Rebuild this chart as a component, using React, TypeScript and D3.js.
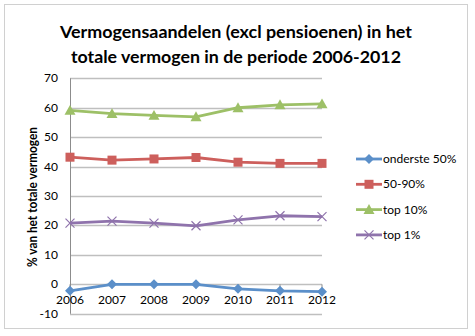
import React from "react";
import * as d3 from "d3";

const years = ["2006", "2007", "2008", "2009", "2010", "2011", "2012"];
const onderste50 = [-2.2, 0, 0, 0, -1.5, -2.2, -2.5];
const mid5090 = [43.2, 42.2, 42.6, 43.1, 41.5, 41.1, 41.1];
const top10 = [59.1, 58.0, 57.4, 56.9, 60.0, 61.0, 61.3];
const top1 = [20.8, 21.5, 20.8, 19.9, 21.9, 23.3, 23.0];
const yTicks = [-10, 0, 10, 20, 30, 40, 50, 60, 70];
const seriesNames = ["onderste 50%", "50-90%", "top 10%", "top 1%"];

const colors = ["#5b8fc9", "#cd5f5c", "#9dc067", "#8f73ac"];
const markers = ["diamond", "square", "triangle", "x"];

const W = 475, H = 336;
const FONT = "Lato, 'Open Sans', sans-serif";

function Marker({ type, x, y, color }: { type: string; x: number; y: number; color: string }) {
  if (type === "diamond") {
    const s = 5;
    return <path d={`M${x},${y - s}L${x + s},${y}L${x},${y + s}L${x - s},${y}Z`} fill={color} />;
  }
  if (type === "square") {
    const s = 4.5;
    return <rect x={x - s} y={y - s} width={2 * s} height={2 * s} fill={color} />;
  }
  if (type === "triangle") {
    const s = 5.5;
    return <path d={`M${x},${y - s}L${x + s},${y + s * 0.8}L${x - s},${y + s * 0.8}Z`} fill={color} />;
  }
  const s = 4.5;
  return (
    <path d={`M${x - s},${y - s}L${x + s},${y + s}M${x - s},${y + s}L${x + s},${y - s}`} stroke={color} strokeWidth={1.2} fill="none" />
  );
}

export default function App() {
  const x = d3.scalePoint<string>().domain(years).range([70, 322]);
  const y = d3.scaleLinear().domain([-10, 70]).range([313.8, 78.3]);
  const data = [onderste50, mid5090, top10, top1];
  const line = d3
    .line<number>()
    .x((_, i) => x(years[i]) as number)
    .y((d) => y(d));

  return (
    <svg width={W} height={H} style={{ position: "absolute", left: 0, top: 0, background: "#fff" }} fontFamily={FONT}>
      <rect x={4.5} y={4.5} width={463} height={324} fill="#fff" stroke="#d0d0d0" strokeWidth={1} />
      <text x={236} y={38} textAnchor="middle" fontSize={17} fontWeight="bold" textLength={352} lengthAdjust="spacingAndGlyphs">
        Vermogensaandelen (excl pensioenen) in het
      </text>
      <text x={236} y={63} textAnchor="middle" fontSize={17} fontWeight="bold" textLength={330} lengthAdjust="spacingAndGlyphs">
        totale vermogen in de periode 2006-2012
      </text>
      {yTicks.map((t) => (
        <g key={t}>
          <line x1={70} x2={322} y1={Math.round(y(t)) + 0.5} y2={Math.round(y(t)) + 0.5} stroke="#bfbfbf" strokeWidth={1.3} />
          <text x={58} y={y(t) + 4} textAnchor="end" fontSize={12}>
            {t}
          </text>
        </g>
      ))}
      <line x1={70.5} x2={70.5} y1={y(70)} y2={y(-10)} stroke="#8c8c8c" strokeWidth={1} />
      {years.map((yr) => (
        <g key={yr}>
          <line x1={x(yr)} x2={x(yr)} y1={y(0)} y2={y(0) + 4} stroke="#8c8c8c" />
          <text x={x(yr)} y={y(0) + 20} textAnchor="middle" fontSize={12}>
            {yr}
          </text>
        </g>
      ))}
      <text transform={`translate(37,197) rotate(-90)`} textAnchor="middle" fontSize={12.5} fontWeight="bold" textLength={140} lengthAdjust="spacingAndGlyphs">
        % van het totale vermogen
      </text>
      {data.map((vals, si) => (
        <g key={si}>
          <path d={line(vals) || ""} fill="none" stroke={colors[si]} strokeWidth={2.8} strokeLinejoin="round" />
          {vals.map((v, i) => (
            <Marker key={i} type={markers[si]} x={x(years[i]) as number} y={y(v)} color={colors[si]} />
          ))}
        </g>
      ))}
      {seriesNames.map((n, i) => {
        const ly = 159 + i * 25.3;
        return (
          <g key={n}>
            <line x1={356} x2={382} y1={ly} y2={ly} stroke={colors[i]} strokeWidth={2.8} />
            <Marker type={markers[i]} x={369} y={ly} color={colors[i]} />
            <text x={383} y={ly + 4} fontSize={12}>
              {n}
            </text>
          </g>
        );
      })}
    </svg>
  );
}
